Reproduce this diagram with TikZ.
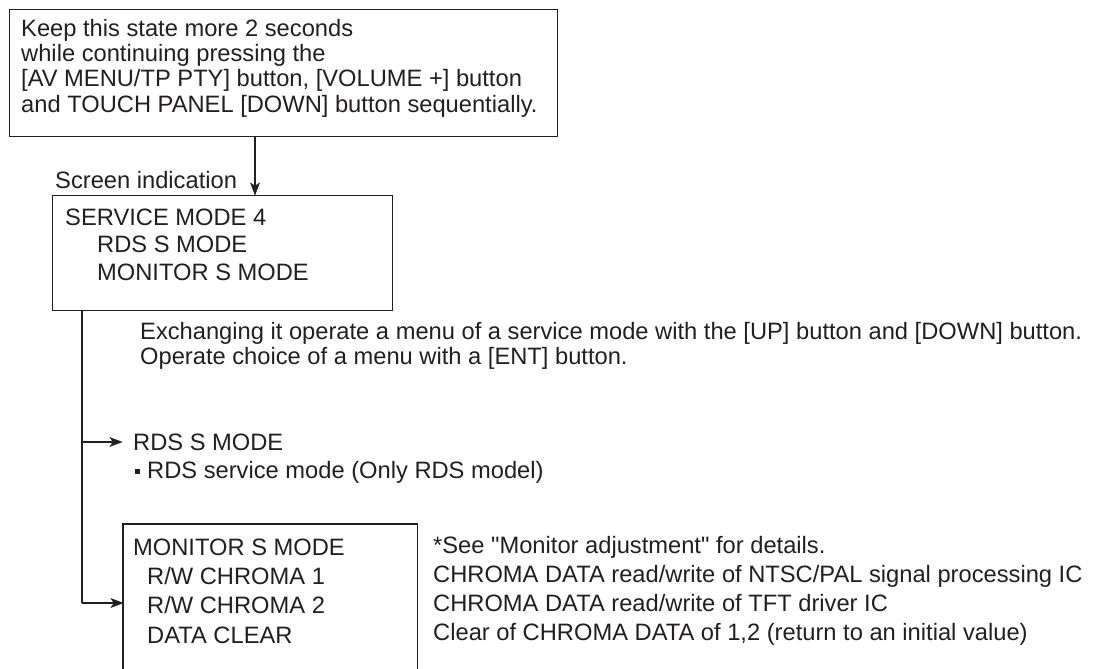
\documentclass[tikz,border=0pt]{standalone}
\usepackage{fontspec}
\setmainfont{Liberation Sans}[Ligatures=TeXOff]
\usetikzlibrary{arrows.meta,calc}
\definecolor{ink}{RGB}{35,31,32}
\begin{document}
\begin{tikzpicture}[x=1pt,y=-1pt,
  txt/.style={anchor=base west,inner sep=0pt,text=ink,font=\fontsize{23.7}{25}\selectfont},
  boxframe/.style={draw=ink,line width=1.3pt,inner sep=0pt,anchor=north west},
  conn/.style={draw=ink,line width=1.3pt},
  headfill/.style={fill=ink,draw=ink,line width=0.4pt,line join=miter}]
\useasboundingbox (0,0) rectangle (1098,669);
% top box
\node[boxframe,minimum width=548pt,minimum height=127pt] (top) at (9,9) {};
\node[txt] (t1) at (21,37) {Keep this state more 2 seconds};
\node[txt] (t2) at (21,62) {while continuing pressing the};
\node[txt] (t3) at (21,87) {[AV MENU/TP PTY] button, [VOLUME +] button};
\node[txt] (t4) at (21,112) {and TOUCH PANEL [DOWN] button sequentially.};
% service box
\node[boxframe,minimum width=340pt,minimum height=115pt] (svc) at (52,195) {};
\node[txt] (scr) at (55,188) {Screen indication};
\node[txt] (s1) at (65,225) {SERVICE MODE 4};
\node[txt] (s2) at (97,252) {RDS S MODE};
\node[txt] (s3) at (97,280) {MONITOR S MODE};
\coordinate (topout) at (255,136);
\coordinate (svcin) at (255,195);
\draw[conn] (topout) -- ($(svcin)+(0,-6)$);
\fill[headfill] (svcin) -- ++(-4.5,-12) -- ++(4.5,3) -- ++(4.5,-3) -- cycle;
% notes
\node[txt] (e1) at (140,339) {Exchanging it operate a menu of a service mode with the [UP] button and [DOWN] button.};
\node[txt] (e2) at (140,364) {Operate choice of a menu with a [ENT] button.};
% RDS
\node[txt] (rds) at (133,450) {RDS S MODE};
\fill[ink] (134.5,468.5) rectangle (139.5,473.5);
\node[txt] (rdsd) at (147,478) {RDS service mode (Only RDS model)};
% monitor box
\node[inner sep=0pt,anchor=north west,minimum width=294pt,minimum height=150pt] (mon) at (123,524) {};
\draw[conn] (mon.south west) -- (mon.north west) -- (mon.north east) -- (mon.south east);
\node[txt] (m1) at (133,555) {MONITOR S MODE};
\node[txt] (m2) at (147,584) {R/W CHROMA 1};
\node[txt] (m3) at (147,613) {R/W CHROMA 2};
\node[txt] (m4) at (147,643) {DATA CLEAR};
\node[txt] (r1) at (433,553) {*See "Monitor adjustment" for details.};
\node[txt] (r2) at (433,582) {CHROMA DATA read/write of NTSC/PAL signal processing IC};
\node[txt] (r3) at (433,611) {CHROMA DATA read/write of TFT driver IC};
\node[txt] (r4) at (433,640) {Clear of CHROMA DATA of 1,2 (return to an initial value)};
% connectors
\coordinate (svcout) at (82,310);
\coordinate (brA) at (82,442);
\coordinate (brB) at (82,603);
\coordinate (rdsin) at (122,442);
\coordinate (monin) at (123,603);
\draw[conn] (svcout) -- (brB);
\draw[conn] (brA) -- ($(rdsin)+(-6,0)$);
\draw[conn] (brB) -- ($(monin)+(-6,0)$);
\fill[headfill] (rdsin) -- ++(-12,-4.5) -- ++(3,4.5) -- ++(-3,4.5) -- cycle;
\fill[headfill] (monin) -- ++(-12,-4.5) -- ++(3,4.5) -- ++(-3,4.5) -- cycle;
\end{tikzpicture}
\end{document}
